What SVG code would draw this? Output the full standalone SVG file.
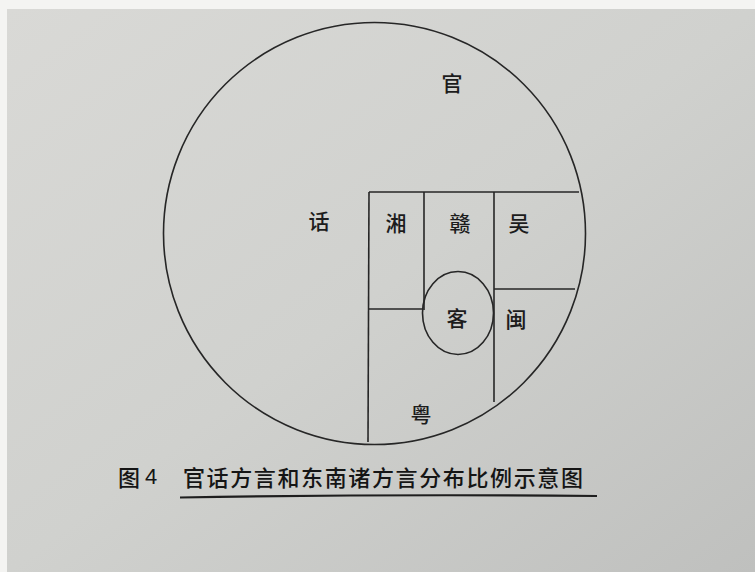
<svg xmlns="http://www.w3.org/2000/svg" width="755" height="572" viewBox="0 0 755 572">
<defs>
<linearGradient id="paper" x1="0" y1="0" x2="1" y2="1">
<stop offset="0" stop-color="#d9d9d6"/>
<stop offset="0.5" stop-color="#d0d1ce"/>
<stop offset="1" stop-color="#bfc0be"/>
</linearGradient>
</defs>
<style>
.ln{fill:none;stroke:#262626;stroke-width:1.6}
.lb{font-family:"Noto Sans CJK SC","Noto Sans CJK JP",sans-serif;font-size:21px;font-weight:500;fill:#1c1c1c;text-anchor:middle;dominant-baseline:central}
.cap{font-family:"Noto Sans CJK SC","Noto Sans CJK JP",sans-serif;font-size:22px;fill:#151515;font-weight:500;dominant-baseline:central}
</style>
<rect x="0" y="0" width="755" height="572" fill="#f4f4f2"/>
<rect x="7" y="9" width="748" height="563" fill="url(#paper)"/>
<g id="connectors">
<circle id="outer" class="ln" cx="374.5" cy="233.5" r="211"/>
<path class="ln" d="M369,192 L579,192"/>
<path class="ln" d="M369,192 L368,442"/>
<path class="ln" d="M424,192 L424,310"/>
<path class="ln" d="M368.5,309 L423,309"/>
<path class="ln" d="M494,192 L494,402"/>
<path class="ln" d="M494,289 L575,289"/>
</g>
<g id="guanhua">
<text class="lb" x="452" y="82">官</text>
<text class="lb" x="319" y="220">话</text>
</g>
<g id="xiang"><text class="lb" x="396" y="222">湘</text></g>
<g id="gan"><text class="lb" x="460" y="222">赣</text></g>
<g id="wu"><text class="lb" x="519" y="222">吴</text></g>
<g id="kejia">
<ellipse class="ln" cx="458" cy="313" rx="35.5" ry="41.5"/>
<text class="lb" x="457" y="317">客</text>
</g>
<g id="min"><text class="lb" x="516" y="318">闽</text></g>
<g id="yue"><text class="lb" x="421" y="413">粤</text></g>
<g id="caption">
<text class="cap" x="118" y="476">图</text>
<text class="cap" x="145" y="476" style="font-family:'Liberation Sans',sans-serif;font-weight:400">4</text>
<text class="cap" x="183" y="476" textLength="400" lengthAdjust="spacing">官话方言和东南诸方言分布比例示意图</text>
<path d="M180,497.5 Q390,494 597,496" fill="none" stroke="#1e1e1e" stroke-width="2.2"/>
</g>
</svg>
